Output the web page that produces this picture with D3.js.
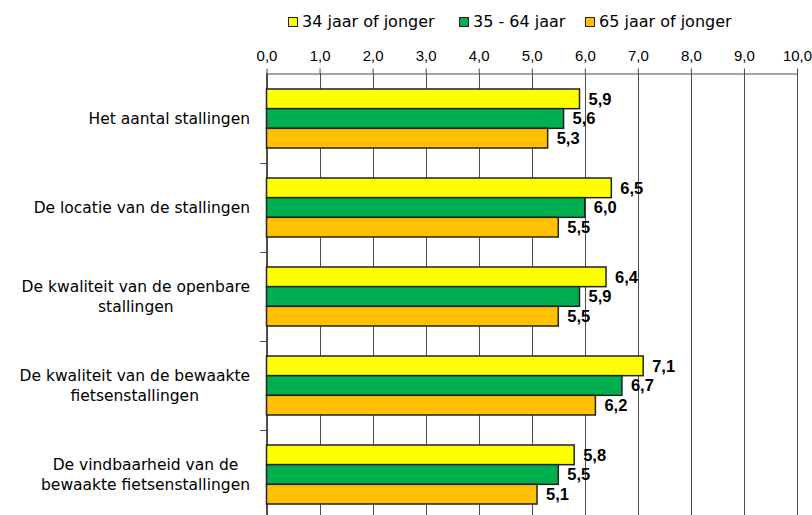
<!DOCTYPE html>
<html>
<head>
<meta charset="utf-8">
<script src="https://cdn.jsdelivr.net/npm/d3@7"></script>
<style>
  html, body { margin: 0; padding: 0; background: #ffffff; }
  svg { display: block; }
</style>
</head>
<body>
<script>
const categories = [
  ["Het aantal stallingen"],
  ["De locatie van de stallingen"],
  ["De kwaliteit van de openbare", "stallingen"],
  ["De kwaliteit van de bewaakte", "fietsenstallingen"],
  ["De vindbaarheid van de", "bewaakte fietsenstallingen"]
];
const seriesNames = ["34 jaar of jonger", "35 - 64 jaar", "65 jaar of jonger"];
const seriesColors = ["#FFFF00", "#00B050", "#FFC000"];
const young = [5.9, 6.5, 6.4, 7.1, 5.8];
const middle = [5.6, 6.0, 5.9, 6.7, 5.5];
const old = [5.3, 5.5, 5.5, 6.2, 5.1];
const seriesValues = [young, middle, old];
const tickValues = [0, 1, 2, 3, 4, 5, 6, 7, 8, 9, 10];

const W = 812, H = 515;
const svg = d3.select("body").append("svg").attr("width", W).attr("height", H);

const x = d3.scaleLinear().domain([0, 10]).range([266.5, 797]);
const y = d3.scaleBand().domain(d3.range(categories.length)).range([74, 519]).padding(0);
const groupH = 59;
const inner = d3.scaleBand().domain(d3.range(seriesNames.length)).range([0, groupH]).padding(0);

const fmt = v => d3.format(".1f")(v).replace(".", ",");

// gridlines
svg.append("g").selectAll("line").data(tickValues).join("line")
  .attr("x1", d => Math.round(x(d)) + 0.5).attr("x2", d => Math.round(x(d)) + 0.5)
  .attr("y1", 73).attr("y2", 519)
  .attr("stroke", "#4d4d4d").attr("stroke-width", 1);

// top axis
const axis = d3.axisTop(x).tickValues(tickValues).tickSize(5).tickSizeOuter(0).tickFormat(fmt);
const ag = svg.append("g").attr("transform", "translate(0,73.5)").call(axis);
ag.select(".domain").attr("stroke", "#4d4d4d");
ag.selectAll(".tick line").attr("stroke", "#4d4d4d");
ag.selectAll(".tick text")
  .attr("font-family", "'Liberation Sans', Arial, sans-serif")
  .attr("font-size", "15px").attr("fill", "#000").attr("dy", "-5px");

// left axis line + ticks at band boundaries
svg.append("line").attr("x1", 266.5).attr("x2", 266.5).attr("y1", 73).attr("y2", 519)
  .attr("stroke", "#4d4d4d");
svg.append("g").selectAll("line").data(d3.range(1, categories.length)).join("line")
  .attr("x1", 260).attr("x2", 266.5)
  .attr("y1", d => Math.round(y(d)) + 0.5).attr("y2", d => Math.round(y(d)) + 0.5)
  .attr("stroke", "#4d4d4d");

// bars
const groups = svg.append("g").selectAll("g").data(categories).join("g")
  .attr("transform", (d, i) => `translate(0,${y(i) + (y.bandwidth() - groupH) / 2})`);

groups.each(function(cat, ci) {
  const g = d3.select(this);
  seriesValues.forEach((vals, si) => {
    const v = vals[ci];
    g.append("rect")
      .attr("x", x(0))
      .attr("y", inner(si))
      .attr("width", x(v) - x(0))
      .attr("height", inner.bandwidth())
      .attr("fill", seriesColors[si])
      .attr("stroke", "#222").attr("stroke-width", 1.5);
    g.append("text")
      .attr("x", x(v) + 9)
      .attr("y", inner(si) + inner.bandwidth() / 2)
      .attr("dy", "0.36em")
      .attr("font-family", "'Liberation Sans', Arial, sans-serif")
      .attr("font-weight", "bold").attr("font-size", "16.5px").attr("fill", "#000")
      .text(fmt(v));
  });
});

// category labels
categories.forEach((lines, ci) => {
  const cy = y(ci) + y.bandwidth() / 2;
  const t = svg.append("text")
    .attr("font-family", "'DejaVu Sans', sans-serif")
    .attr("font-size", "15.5px").attr("fill", "#000")
    .attr("text-anchor", "middle");
  const lh = 19.5;
  const spans = lines.map((ln, li) => t.append("tspan").text(ln)
    .attr("y", cy + (li - (lines.length - 1) / 2) * lh).attr("dy", "0.35em"));
  let maxW = 0;
  spans.forEach(s => { maxW = Math.max(maxW, s.node().getComputedTextLength()); });
  const cx = 250 - maxW / 2;
  spans.forEach(s => s.attr("x", cx));
});

// legend
const legendX = [288, 459, 585];
const lg = svg.append("g");
seriesNames.forEach((name, i) => {
  lg.append("rect").attr("x", legendX[i] + 0.5).attr("y", 17.5).attr("width", 9).attr("height", 9)
    .attr("fill", seriesColors[i]).attr("stroke", "#222").attr("stroke-width", 1);
  lg.append("text").attr("x", legendX[i] + 14).attr("y", 27)
    .attr("font-family", "'DejaVu Sans', sans-serif").attr("font-size", "16px").attr("fill", "#000")
    .text(name);
});
</script>
</body>
</html>
